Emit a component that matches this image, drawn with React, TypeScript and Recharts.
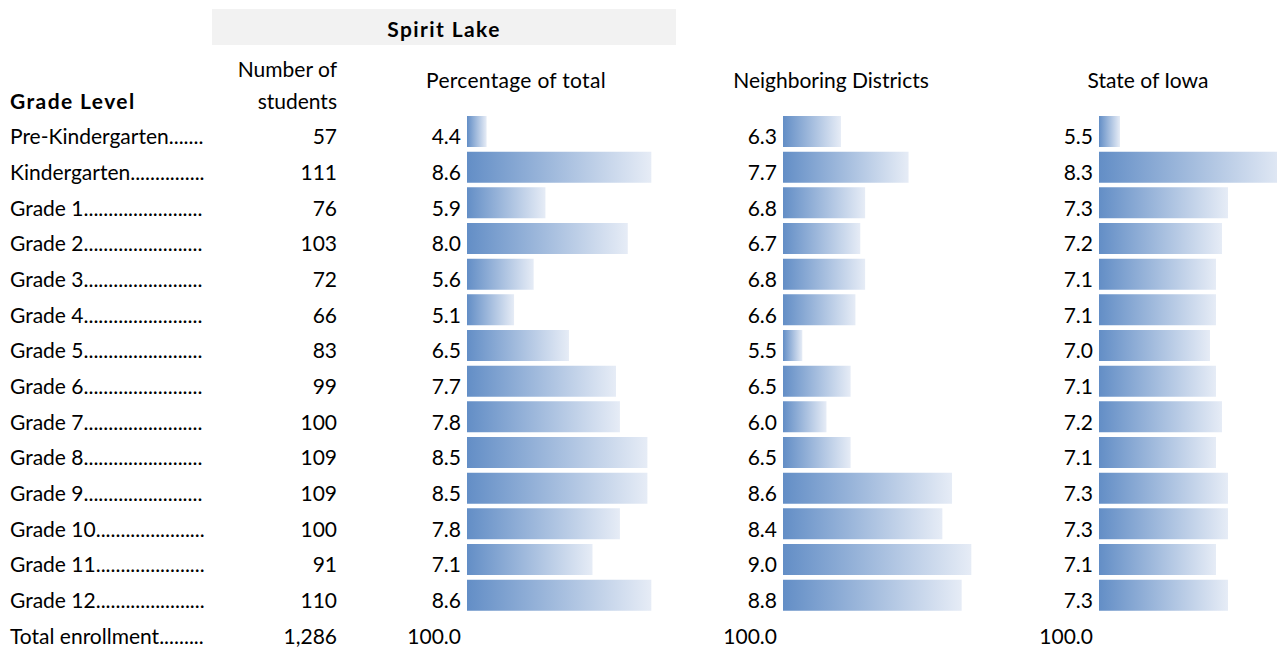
import React from 'react'
import { BarChart, Bar, XAxis, YAxis } from 'recharts'

const grades = [
  'Pre-Kindergarten',
  'Kindergarten',
  'Grade 1',
  'Grade 2',
  'Grade 3',
  'Grade 4',
  'Grade 5',
  'Grade 6',
  'Grade 7',
  'Grade 8',
  'Grade 9',
  'Grade 10',
  'Grade 11',
  'Grade 12',
]
const students = [57, 111, 76, 103, 72, 66, 83, 99, 100, 109, 109, 100, 91, 110]
const spiritLake = [4.4, 8.6, 5.9, 8.0, 5.6, 5.1, 6.5, 7.7, 7.8, 8.5, 8.5, 7.8, 7.1, 8.6]
const neighboring = [6.3, 7.7, 6.8, 6.7, 6.8, 6.6, 5.5, 6.5, 6.0, 6.5, 8.6, 8.4, 9.0, 8.8]
const stateOfIowa = [5.5, 8.3, 7.3, 7.2, 7.1, 7.1, 7.0, 7.1, 7.2, 7.1, 7.3, 7.3, 7.1, 7.3]

const totalLabel = 'Total enrollment'
const totalStudents = 1286
const totalPct = 100.0

const FONT = 'Lato, "Noto Sans", sans-serif'
const FS = 21
const H = 649
const TOP = 114
const LABEL_END = 206

type Row = {
  grade: string
  count: number
  sl: number | null
  nb: number | null
  st: number | null
  total?: boolean
}

const rows: Row[] = [
  ...grades.map((g, i) => ({
    grade: g,
    count: students[i],
    sl: spiritLake[i],
    nb: neighboring[i],
    st: stateOfIowa[i],
  })),
  { grade: totalLabel, count: totalStudents, sl: null, nb: null, st: null, total: true },
]

let ctx: CanvasRenderingContext2D | null = null
const textWidth = (s: string) => {
  if (!ctx) ctx = document.createElement('canvas').getContext('2d')
  if (!ctx) return s.length * 10
  ctx.font = `${FS}px Lato`
  return ctx.measureText(s).width
}

// dot leaders out to the edge of the label column, like the spreadsheet
const withLeader = (label: string) => {
  const room = LABEL_END - 10 - textWidth(label)
  const dot = textWidth('.') || 5
  const n = Math.max(0, Math.floor(room / dot))
  return label + '.'.repeat(n)
}

const fmtPct = (v: number | null, total?: boolean) =>
  total ? totalPct.toFixed(1) : v == null ? '' : v.toFixed(1)

const Gradient = ({ id }: { id: string }) => (
  <defs>
    <linearGradient id={id} x1="0" y1="0" x2="1" y2="0">
      <stop offset="0%" stopColor="#638EC6" />
      <stop offset="100%" stopColor="#E6ECF6" />
    </linearGradient>
  </defs>
)

// first block: grade label, student count and Spirit Lake percentage
const FirstTick = (props: any) => {
  const { y, index } = props
  const r = rows[index]
  if (!r) return null
  const by = y + 12.5
  return (
    <g fontFamily={FONT} fontSize={FS} fill="#000">
      <text x={10} y={by}>{withLeader(r.grade)}</text>
      <text x={337} y={by} textAnchor="end">
        {r.count.toLocaleString('en-US')}
      </text>
      <text x={461} y={by} textAnchor="end">
        {fmtPct(r.sl, r.total)}
      </text>
    </g>
  )
}

const makeValueTick = (key: 'nb' | 'st', right: number) => (props: any) => {
  const { y, index } = props
  const r = rows[index]
  if (!r) return null
  return (
    <text x={right} y={y + 12.5} textAnchor="end" fontFamily={FONT} fontSize={FS} fill="#000">
      {fmtPct(r[key], r.total)}
    </text>
  )
}

export default function App() {
  return (
    <div
      style={{
        position: 'absolute',
        left: 0,
        top: 0,
        width: 1277,
        height: H,
        overflow: 'hidden',
        background: '#fff',
        fontFamily: FONT,
      }}
    >
      {/* Spirit Lake: label, count, percentage */}
      <div style={{ position: 'absolute', left: 0, top: 0 }}>
        <BarChart
          width={680}
          height={H}
          data={rows}
          layout="vertical"
          margin={{ top: TOP, right: 13, bottom: 0, left: 0 }}
        >
          <Gradient id="barFade1" />
          <XAxis type="number" domain={[3.9, 9.0]} hide />
          <YAxis
            type="category"
            dataKey="grade"
            width={467}
            axisLine={false}
            tickLine={false}
            interval={0}
            tick={FirstTick}
          />
          <Bar dataKey="sl" fill="url(#barFade1)" barSize={31} isAnimationActive={false} />
        </BarChart>
      </div>

      {/* Neighboring Districts */}
      <div style={{ position: 'absolute', left: 680, top: 0 }}>
        <BarChart
          width={301}
          height={H}
          data={rows}
          layout="vertical"
          margin={{ top: TOP, right: 0, bottom: 0, left: 0 }}
        >
          <Gradient id="barFade2" />
          <XAxis type="number" domain={[5.1, 9.2]} hide />
          <YAxis
            type="category"
            dataKey="grade"
            width={103}
            axisLine={false}
            tickLine={false}
            interval={0}
            tick={makeValueTick('nb', 97)}
          />
          <Bar dataKey="nb" fill="url(#barFade2)" barSize={31} isAnimationActive={false} />
        </BarChart>
      </div>

      {/* State of Iowa */}
      <div style={{ position: 'absolute', left: 1000, top: 0 }}>
        <BarChart
          width={300}
          height={H}
          data={rows}
          layout="vertical"
          margin={{ top: TOP, right: 0, bottom: 0, left: 0 }}
        >
          <Gradient id="barFade3" />
          <XAxis type="number" domain={[5.15, 8.5]} hide />
          <YAxis
            type="category"
            dataKey="grade"
            width={99}
            axisLine={false}
            tickLine={false}
            interval={0}
            tick={makeValueTick('st', 93)}
          />
          <Bar dataKey="st" fill="url(#barFade3)" barSize={31} isAnimationActive={false} />
        </BarChart>
      </div>

      {/* column headers */}
      <svg
        width={1277}
        height={TOP}
        style={{ position: 'absolute', left: 0, top: 0, pointerEvents: 'none' }}
        fontFamily={FONT}
        fontSize={FS}
        fill="#000"
      >
        <rect x={212} y={9} width={464} height={36} fill="#F2F2F2" />
        <text x={444} y={37} textAnchor="middle" fontWeight="bold" letterSpacing={1.4}>
          Spirit Lake
        </text>
        <text x={337} y={77} textAnchor="end">Number of</text>
        <text x={337} y={109} textAnchor="end">students</text>
        <text x={10} y={109} fontWeight="bold" letterSpacing={1.4}>Grade Level</text>
        <text x={516} y={88} textAnchor="middle" letterSpacing={0.3}>Percentage of total</text>
        <text x={831} y={88} textAnchor="middle">Neighboring Districts</text>
        <text x={1148} y={88} textAnchor="middle">State of Iowa</text>
      </svg>
    </div>
  )
}
